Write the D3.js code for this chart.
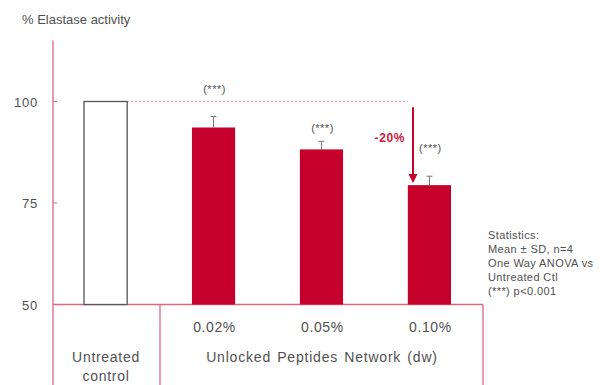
<!DOCTYPE html>
<html>
<head>
<meta charset="utf-8">
<script src="https://cdn.jsdelivr.net/npm/d3@7"></script>
<style>
  body { margin: 0; background: #fff; }
  text { font-family: "Liberation Sans", Arial, sans-serif; fill: #505050; }
</style>
</head>
<body>
<div id="chart"></div>
<script>
// bar data
var groups = ["ctrl", "0.02%", "0.05%", "0.10%"];
var values = [100, 93.6, 88.2, 79.4];
var errors = [0, 2.7, 2.0, 2.2];
var sigLabels = ["", "(***)", "(***)", "(***)"];
var yTicks = [50, 75, 100];
var statsLines = ["Statistics:", "Mean \u00b1 SD, n=4", "One Way ANOVA vs", "Untreated Ctl", "(***) p<0.001"];

var width = 608, height = 385;
var red = "#c4002b", axisRed = "#e0667f";

var svg = d3.select("#chart").append("svg")
    .attr("width", width).attr("height", height);

var x = d3.scaleBand()
    .domain(groups)
    .range([84, 451])
    .paddingInner(0.6)
    .paddingOuter(0);

var y = d3.scaleLinear()
    .domain([50, 100])
    .range([304.5, 101.5]);

// title
svg.append("text")
    .attr("x", 22).attr("y", 24)
    .style("font-size", "13px")
    .text("% Elastase activity");

// y axis
svg.append("line")
    .attr("x1", 53).attr("x2", 53)
    .attr("y1", y(115)).attr("y2", height)
    .attr("stroke", axisRed).attr("stroke-width", 1.3);

svg.selectAll(".ytick").data(yTicks).enter()
  .append("line")
    .attr("x1", 53).attr("x2", 57)
    .attr("y1", function(d) { return y(d); })
    .attr("y2", function(d) { return y(d); })
    .attr("stroke", axisRed);

svg.selectAll(".ylab").data(yTicks).enter()
  .append("text")
    .attr("x", 38)
    .attr("y", function(d) { return y(d) + 5; })
    .attr("text-anchor", "end")
    .style("font-size", "13px")
    .style("letter-spacing", "0.8px")
    .text(function(d) { return d; });

// category box below baseline
svg.append("line")
    .attr("x1", 53).attr("x2", 483)
    .attr("y1", y(50)).attr("y2", y(50))
    .attr("stroke", axisRed).attr("stroke-width", 1.3);
[160, 483].forEach(function(px) {
  svg.append("line")
      .attr("x1", px).attr("x2", px)
      .attr("y1", y(50)).attr("y2", height)
      .attr("stroke", axisRed).attr("stroke-width", 1.3);
});

// dashed reference at 100
svg.append("line")
    .attr("x1", x("ctrl") + x.bandwidth()).attr("x2", 408)
    .attr("y1", y(100)).attr("y2", y(100))
    .attr("stroke", "#ec8fa0")
    .attr("stroke-width", 1.2)
    .attr("stroke-dasharray", "2,2");

// bars
svg.selectAll(".bar").data(groups).enter()
  .append("rect")
    .attr("x", function(d) { return x(d); })
    .attr("y", function(d, i) { return y(values[i]); })
    .attr("width", x.bandwidth())
    .attr("height", function(d, i) { return y(50) - y(values[i]); })
    .attr("fill", function(d, i) { return i === 0 ? "#fff" : red; })
    .attr("stroke", function(d, i) { return i === 0 ? "#555" : "none"; })
    .attr("stroke-width", 1.3);

// error bars
var err = svg.selectAll(".err").data(groups.slice(1)).enter().append("g");
err.append("line")
    .attr("x1", function(d) { return x(d) + x.bandwidth() / 2; })
    .attr("x2", function(d) { return x(d) + x.bandwidth() / 2; })
    .attr("y1", function(d, i) { return y(values[i + 1]); })
    .attr("y2", function(d, i) { return y(values[i + 1] + errors[i + 1]); })
    .attr("stroke", "#777");
err.append("line")
    .attr("x1", function(d) { return x(d) + x.bandwidth() / 2 - 3; })
    .attr("x2", function(d) { return x(d) + x.bandwidth() / 2 + 3; })
    .attr("y1", function(d, i) { return y(values[i + 1] + errors[i + 1]); })
    .attr("y2", function(d, i) { return y(values[i + 1] + errors[i + 1]); })
    .attr("stroke", "#777");

// significance labels
var sigOffset = [0, 24, 9, 24];
svg.selectAll(".sig").data(groups).enter()
  .filter(function(d, i) { return sigLabels[i]; })
  .append("text")
    .attr("x", function(d) { return x(d) + x.bandwidth() / 2 + 1; })
    .attr("y", function(d) { var i = groups.indexOf(d); return y(values[i] + errors[i]) - sigOffset[i]; })
    .attr("text-anchor", "middle")
    .style("font-size", "11px")
    .style("letter-spacing", "0.5px")
    .text(function(d) { return sigLabels[groups.indexOf(d)]; });

// -20% arrow
svg.append("defs").append("marker")
    .attr("id", "arrow")
    .attr("viewBox", "0 0 10 10")
    .attr("refX", 8).attr("refY", 5)
    .attr("markerWidth", 4.5).attr("markerHeight", 4.5)
    .attr("orient", "auto")
  .append("path")
    .attr("d", "M0,0L10,5L0,10Z")
    .attr("fill", red);
svg.append("line")
    .attr("x1", 413).attr("x2", 413)
    .attr("y1", y(98.6)).attr("y2", y(values[3]) - 4)
    .attr("stroke", red).attr("stroke-width", 2)
    .attr("marker-end", "url(#arrow)");
svg.append("text")
    .attr("x", 405).attr("y", 142)
    .attr("text-anchor", "end")
    .style("font-size", "12px")
    .style("font-weight", "bold")
    .style("letter-spacing", "0.6px")
    .style("fill", "#cc2040")
    .text("-20%");

// category labels
svg.selectAll(".xlab").data(groups.slice(1)).enter()
  .append("text")
    .attr("x", function(d) { return x(d) + x.bandwidth() / 2 + 1; })
    .attr("y", 332)
    .attr("text-anchor", "middle")
    .style("font-size", "14px")
    .style("letter-spacing", "0.6px")
    .text(function(d) { return d; });

svg.append("text")
    .attr("x", 322).attr("y", 362)
    .attr("text-anchor", "middle")
    .style("font-size", "14px")
    .style("letter-spacing", "0.8px")
    .style("word-spacing", "1.5px")
    .text("Unlocked Peptides Network (dw)");
svg.append("text")
    .attr("x", 106).attr("y", 362)
    .attr("text-anchor", "middle")
    .style("font-size", "14px")
    .style("letter-spacing", "0.7px")
    .text("Untreated");
svg.append("text")
    .attr("x", 106).attr("y", 381)
    .attr("text-anchor", "middle")
    .style("font-size", "14px")
    .style("letter-spacing", "0.7px")
    .text("control");

// statistics note
svg.selectAll(".stat").data(statsLines).enter()
  .append("text")
    .attr("x", 488)
    .attr("y", function(d, i) { return 239 + i * 14; })
    .style("font-size", "11px")
    .style("letter-spacing", "0.4px")
    .text(function(d) { return d; });
</script>
</body>
</html>
